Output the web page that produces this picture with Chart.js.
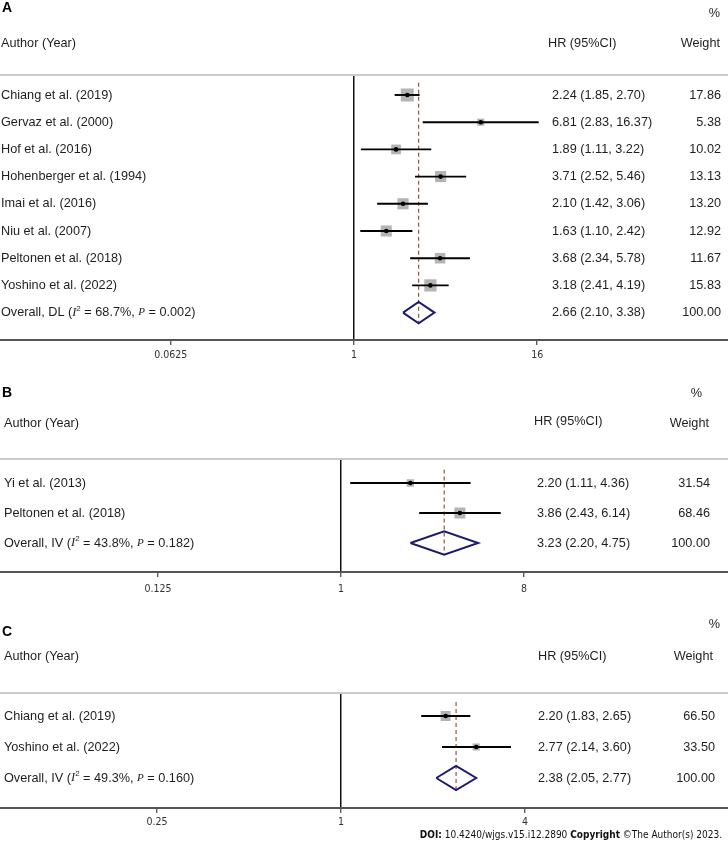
<!DOCTYPE html>
<html lang="en">
<head>
    <meta charset="UTF-8">
    <title>Forest plots - HR</title>
    <script src="https://cdn.jsdelivr.net/npm/chart.js"></script>
    <style>
        body { margin: 0; background: #fff; }
        #wrap { position: relative; width: 728px; height: 842px; }
        canvas { position: absolute; left: 0; }
    </style>
</head>
<body>
<div id="wrap">
    <canvas id="chartA" width="728" height="365" style="top:0px"></canvas>
    <canvas id="chartB" width="728" height="235" style="top:365px"></canvas>
    <canvas id="chartC" width="728" height="242" style="top:600px"></canvas>
</div>
<script>
    // ---- Panel A data ----
    var studiesA = ['Chiang et al. (2019)', 'Gervaz et al. (2000)', 'Hof et al. (2016)', 'Hohenberger et al. (1994)',
                    'Imai et al. (2016)', 'Niu et al. (2007)', 'Peltonen et al. (2018)', 'Yoshino et al. (2022)'];
    var hrA = [2.24, 6.81, 1.89, 3.71, 2.10, 1.63, 3.68, 3.18];
    var loA = [1.85, 2.83, 1.11, 2.52, 1.42, 1.10, 2.34, 2.41];
    var hiA = [2.70, 16.37, 3.22, 5.46, 3.06, 2.42, 5.78, 4.19];
    var weightA = [17.86, 5.38, 10.02, 13.13, 13.20, 12.92, 11.67, 15.83];
    var overallA = [2.66, 2.10, 3.38];          // HR, lower, upper
    var overallStatsA = ['DL', '68.7%', '0.002']; // method, I2, P
    var ticksA = [0.0625, 1, 16];

    // ---- Panel B data ----
    var studiesB = ['Yi et al. (2013)', 'Peltonen et al. (2018)'];
    var hrB = [2.20, 3.86];
    var loB = [1.11, 2.43];
    var hiB = [4.36, 6.14];
    var weightB = [31.54, 68.46];
    var overallB = [3.23, 2.20, 4.75];
    var overallStatsB = ['IV', '43.8%', '0.182'];
    var ticksB = [0.125, 1, 8];

    // ---- Panel C data ----
    var studiesC = ['Chiang et al. (2019)', 'Yoshino et al. (2022)'];
    var hrC = [2.20, 2.77];
    var loC = [1.83, 2.14];
    var hiC = [2.65, 3.60];
    var weightC = [66.50, 33.50];
    var overallC = [2.38, 2.05, 2.77];
    var overallStatsC = ['IV', '49.3%', '0.160'];
    var ticksC = [0.25, 1, 4];

    var SANS = '"Liberation Sans", Arial, sans-serif';
    var SERIF = '"Liberation Serif", "Times New Roman", serif';
    var TICKFONT = '"DejaVu Sans Condensed", "DejaVu Sans", sans-serif';
    var TXT = '#1e1e1e';

    // layout of each panel (pixels in its own canvas)
    var layoutA = { letter: 'A', top: 75, padBottom: 0, yMin: -0.735, yMax: 9.007, log2Min: -7.729, log2Max: 8.166,
                    tickPad: 4, boxMax: 13, letterY: 8, pctY: 13, pctRight: 720, headY: 43, hrHeadY: 43,
                    labelX: 1, hrHeadX: 548, hrX: 552, wHeadRight: 720, wRight: 721 };
    var layoutB = { letter: 'B', top: 94, padBottom: 3, yMin: -0.8, yMax: 2.967, log2Min: -5.590, log2Max: 6.344,
                    tickPad: 6, boxMax: 11, letterY: 28, pctY: 28, pctRight: 702, headY: 58, hrHeadY: 56,
                    labelX: 4, hrHeadX: 534, hrX: 537, wHeadRight: 709, wRight: 710 };
    var layoutC = { letter: 'C', top: 93, padBottom: 9, yMin: -0.742, yMax: 2.968, log2Min: -3.707, log2Max: 4.207,
                    tickPad: 3, boxMax: 10, letterY: 32, pctY: 24, pctRight: 720, headY: 56, hrHeadY: 56,
                    labelX: 4, hrHeadX: 538, hrX: 538, wHeadRight: 713, wRight: 715,
                    footY: 235, footRight: 722 };

    function ciText(h, l, u) {
        return h.toFixed(2) + ' (' + l.toFixed(2) + ', ' + u.toFixed(2) + ')';
    }

    // Draws a sequence of [text, font, dy] pieces from x
    function drawRich(ctx, parts, x, y) {
        parts.forEach(function (p) {
            ctx.font = p[1];
            ctx.fillText(p[0], x, y + (p[2] || 0));
            x += ctx.measureText(p[0]).width;
        });
        return x;
    }

    function makeForest(id, D, L) {
        var n = D.studies.length;
        var maxW = Math.max.apply(null, D.weights);
        var datasets = [];

        // dashed line at overall estimate
        datasets.push({
            data: [{ x: D.overall[0], y: -0.45 }, { x: D.overall[0], y: n + 0.39 }],
            showLine: true, borderColor: '#a0503f', borderWidth: 1.2, borderDash: [4, 3],
            pointRadius: 0, order: 5
        });
        // weight boxes
        datasets.push({
            data: D.hr.map(function (v, i) { return { x: v, y: i }; }),
            pointStyle: 'rect', backgroundColor: '#b4b4b4', borderWidth: 0,
            pointRadius: D.weights.map(function (w) { return L.boxMax * Math.sqrt(w / maxW) / Math.SQRT2; }),
            order: 4
        });
        // confidence intervals
        D.hr.forEach(function (v, i) {
            datasets.push({
                data: [{ x: D.lo[i], y: i }, { x: D.hi[i], y: i }],
                showLine: true, borderColor: '#000', borderWidth: 1.9, pointRadius: 0, order: 3
            });
        });
        // point estimates
        datasets.push({
            data: D.hr.map(function (v, i) { return { x: v, y: i }; }),
            pointStyle: 'circle', backgroundColor: '#000', borderWidth: 0, pointRadius: 2.3, order: 1
        });
        // overall diamond
        var o = D.overall;
        datasets.push({
            data: [{ x: o[1], y: n }, { x: o[0], y: n - 0.39 }, { x: o[2], y: n }, { x: o[0], y: n + 0.39 }, { x: o[1], y: n }],
            showLine: true, borderColor: '#1c1c6c', borderWidth: 2, pointRadius: 0, tension: 0, order: 2
        });

        var textPlugin = {
            id: 'forestText' + L.letter,
            afterDraw: function (chart) {
                var ctx = chart.ctx;
                var area = chart.chartArea;
                var ys = chart.scales.y;
                ctx.save();
                // top rule
                ctx.strokeStyle = '#cbcbcb';
                ctx.lineWidth = 2;
                ctx.beginPath();
                ctx.moveTo(0, area.top);
                ctx.lineTo(chart.width, area.top);
                ctx.stroke();

                ctx.fillStyle = '#000';
                ctx.textBaseline = 'middle';
                ctx.textAlign = 'left';
                ctx.font = 'bold 14px ' + SANS;
                ctx.fillText(L.letter, 2, L.letterY);

                ctx.fillStyle = TXT;
                ctx.font = '12.7px ' + SANS;
                ctx.fillText('Author (Year)', L.labelX, L.headY);
                ctx.fillText('HR (95%CI)', L.hrHeadX, L.hrHeadY);
                ctx.textAlign = 'right';
                ctx.fillText('Weight', L.wHeadRight, L.headY);
                ctx.fillText('%', L.pctRight, L.pctY);

                // study rows
                for (var i = 0; i < n; i++) {
                    var y = ys.getPixelForValue(i);
                    ctx.textAlign = 'left';
                    ctx.fillText(D.studies[i], L.labelX, y);
                    ctx.fillText(ciText(D.hr[i], D.lo[i], D.hi[i]), L.hrX, y);
                    ctx.textAlign = 'right';
                    ctx.fillText(D.weights[i].toFixed(2), L.wRight, y);
                }
                // overall row
                var yo = ys.getPixelForValue(n);
                ctx.textAlign = 'left';
                var f = '12.7px ' + SANS;
                var fi = 'italic 12.5px ' + SERIF;
                drawRich(ctx, [
                    ['Overall, ' + D.stats[0] + ' (', f],
                    ['I', fi],
                    ['2', '8px ' + SANS, -4],
                    [' = ' + D.stats[1] + ', ', f],
                    ['P', 'italic 11px ' + SERIF],
                    [' = ' + D.stats[2] + ')', f]
                ], L.labelX, yo);
                ctx.font = f;
                ctx.fillText(ciText(o[0], o[1], o[2]), L.hrX, yo);
                ctx.textAlign = 'right';
                ctx.fillText((100).toFixed(2), L.wRight, yo);

                // source line
                if (L.footY) {
                    var parts = [
                        ['DOI:', 'bold 10px ' + TICKFONT],
                        [' 10.4240/wjgs.v15.i12.2890 ', '10px ' + TICKFONT],
                        ['Copyright', 'bold 10px ' + TICKFONT],
                        [' \u00A9The Author(s) 2023.', '10px ' + TICKFONT]
                    ];
                    var w = 0;
                    parts.forEach(function (p) { ctx.font = p[1]; w += ctx.measureText(p[0]).width; });
                    ctx.textAlign = 'left';
                    ctx.fillStyle = '#111';
                    drawRich(ctx, parts, L.footRight - w, L.footY);
                }
                ctx.restore();
            }
        };

        return new Chart(document.getElementById(id).getContext('2d'), {
            type: 'scatter',
            data: { datasets: datasets },
            options: {
                responsive: false,
                animation: false,
                events: [],
                layout: { autoPadding: false, padding: { top: L.top, bottom: L.padBottom, left: 0, right: 0 } },
                plugins: { legend: { display: false }, tooltip: { enabled: false } },
                scales: {
                    x: {
                        type: 'logarithmic',
                        bounds: 'data',
                        min: Math.pow(2, L.log2Min),
                        max: Math.pow(2, L.log2Max),
                        afterBuildTicks: function (s) { s.ticks = D.ticks.map(function (v) { return { value: v }; }); },
                        afterFit: function (s) { s.height = 25; s.paddingLeft = 0; s.paddingRight = 0; },
                        ticks: {
                            autoSkip: false, maxRotation: 0, padding: L.tickPad, color: '#333',
                            font: { family: TICKFONT, size: 10.5 },
                            callback: function (v) { return String(v); }
                        },
                        grid: {
                            color: function (c) { return (c.tick && c.tick.value === 1) ? '#111' : 'rgba(0,0,0,0)'; },
                            lineWidth: 1.5, tickLength: 5, tickColor: '#444', tickWidth: 1.2
                        },
                        border: { display: true, color: '#555', width: 2 }
                    },
                    y: { type: 'linear', display: false, reverse: true, bounds: 'data', min: L.yMin, max: L.yMax }
                }
            },
            plugins: [textPlugin]
        });
    }

    var chartA = makeForest('chartA', { studies: studiesA, hr: hrA, lo: loA, hi: hiA, weights: weightA,
        overall: overallA, stats: overallStatsA, ticks: ticksA }, layoutA);
    var chartB = makeForest('chartB', { studies: studiesB, hr: hrB, lo: loB, hi: hiB, weights: weightB,
        overall: overallB, stats: overallStatsB, ticks: ticksB }, layoutB);
    var chartC = makeForest('chartC', { studies: studiesC, hr: hrC, lo: loC, hi: hiC, weights: weightC,
        overall: overallC, stats: overallStatsC, ticks: ticksC }, layoutC);
</script>
</body>
</html>
